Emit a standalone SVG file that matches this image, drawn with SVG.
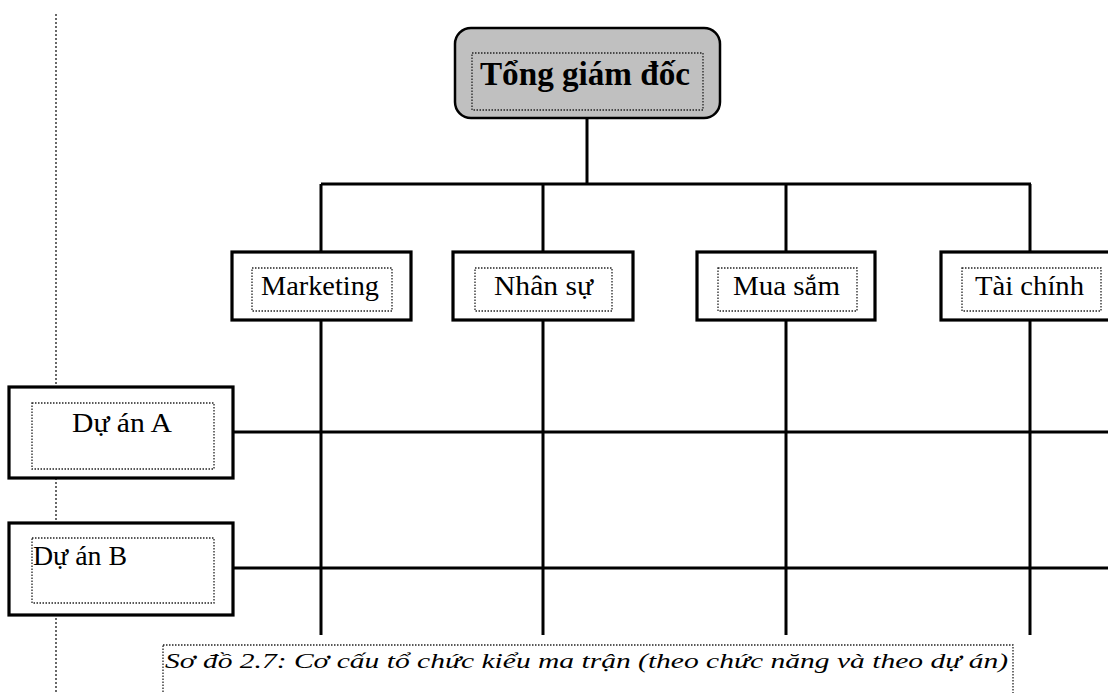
<svg xmlns="http://www.w3.org/2000/svg" width="1108" height="693" viewBox="0 0 1108 693">
<style>
.ln{stroke:#000;stroke-width:3;fill:none}
.box{fill:#fff;stroke:#000;stroke-width:3.2}
.dot{fill:none;stroke:#222;stroke-width:1.3;stroke-dasharray:1.5,1.5}
.t{font-family:"Liberation Serif","Times New Roman",serif;fill:#000}
</style>
<rect width="1108" height="693" fill="#fff"/>
<line x1="56" y1="14" x2="56" y2="693" stroke="#444" stroke-width="1.6" stroke-dasharray="2,2"/>
<g id="connectors">
<path class="ln" d="M587 118V184M321 184H1031M321 184V635M543 184V635M786 184V635M1030 184V635M233 432H1108M233 568H1108"/>
</g>
<g id="tong-giam-doc">
<rect x="455" y="28" width="265" height="90" rx="16" fill="#c0c0c0" stroke="#000" stroke-width="2.5"/>
<rect class="dot" x="472" y="53" width="231" height="57"/>
<text class="t" x="585" y="85" font-size="33" font-weight="bold" text-anchor="middle" textLength="210" lengthAdjust="spacingAndGlyphs">Tổng giám đốc</text>
</g>
<g id="marketing">
<rect class="box" x="232" y="252" width="179" height="68"/>
<rect class="dot" x="252" y="268" width="140" height="43"/>
<text class="t" x="320" y="295" font-size="27" text-anchor="middle" textLength="118" lengthAdjust="spacingAndGlyphs">Marketing</text>
</g>
<g id="nhan-su">
<rect class="box" x="453" y="252" width="180" height="68"/>
<rect class="dot" x="475" y="268" width="137" height="43"/>
<text class="t" x="543.5" y="295" font-size="27" text-anchor="middle" textLength="99" lengthAdjust="spacingAndGlyphs">Nhân sự</text>
</g>
<g id="mua-sam">
<rect class="box" x="697" y="252" width="178" height="68"/>
<rect class="dot" x="718" y="268" width="139" height="43"/>
<text class="t" x="786.5" y="295" font-size="27" text-anchor="middle" textLength="107" lengthAdjust="spacingAndGlyphs">Mua sắm</text>
</g>
<g id="tai-chinh">
<rect class="box" x="941" y="252" width="180" height="68"/>
<rect class="dot" x="962" y="268" width="139" height="43"/>
<text class="t" x="1029.5" y="295" font-size="27" text-anchor="middle" textLength="109" lengthAdjust="spacingAndGlyphs">Tài chính</text>
</g>
<g id="du-an-a">
<rect class="box" x="9" y="387" width="224" height="91"/>
<rect class="dot" x="32" y="403" width="182" height="66"/>
<text class="t" x="122" y="432" font-size="27" text-anchor="middle" textLength="100" lengthAdjust="spacingAndGlyphs">Dự án A</text>
</g>
<g id="du-an-b">
<rect class="box" x="9" y="523" width="224" height="92"/>
<rect class="dot" x="32" y="538" width="182" height="65"/>
<text class="t" x="33" y="565" font-size="27" textLength="94" lengthAdjust="spacingAndGlyphs">Dự án B</text>
</g>
<g id="caption">
<rect class="dot" x="163" y="645" width="850" height="60"/>
<text class="t" x="165" y="668" font-size="22" font-style="italic" textLength="843" lengthAdjust="spacingAndGlyphs">Sơ đồ 2.7: Cơ cấu tổ chức kiểu ma trận (theo chức năng và theo dự án)</text>
</g>
</svg>
